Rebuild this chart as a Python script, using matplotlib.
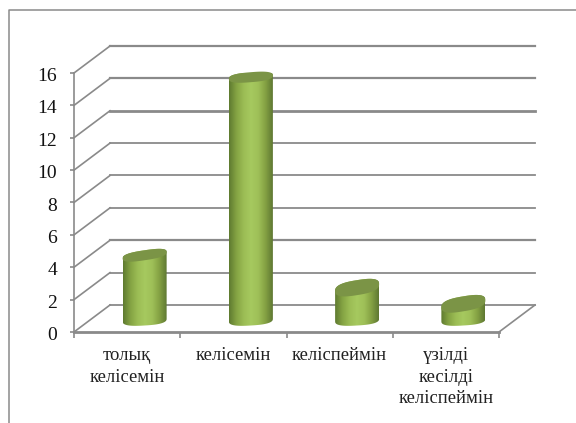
# 3D-look cylinder column chart, redrawn with plain matplotlib
import numpy as np
import matplotlib
matplotlib.use("Agg")
import matplotlib.pyplot as plt
from matplotlib.colors import LinearSegmentedColormap
from matplotlib.lines import Line2D
from matplotlib.path import Path
from matplotlib.transforms import ScaledTranslation

categories = ["толық\nкелісемін", "келісемін", "келіспеймін", "үзілді\nкесілді\nкеліспеймін"]
values = [4, 15, 2, 1]
y_ticks = [0, 2, 4, 6, 8, 10, 12, 14, 16]

W, H = 576, 423
LEFT, RIGHT, TOP, BOTTOM = 74, 499, 73, 332
GREY = "#8a8a8a"

plt.rcParams["font.family"] = ["Liberation Serif", "DejaVu Serif"]

fig = plt.figure(figsize=(W / 100, H / 100), dpi=100, facecolor="white")
ax = fig.add_axes([LEFT / W, 1 - BOTTOM / H, (RIGHT - LEFT) / W, (BOTTOM - TOP) / H])
ax.set_facecolor("none")

# pixels to data units
px_x = 4 / (RIGHT - LEFT)
px_y = 16 / (BOTTOM - TOP)
depth_x = 36 * px_x
depth_y = 27 * px_y

# outer frame, runs off the right and bottom edge
fig.add_artist(Line2D([1, 9 / W, 9 / W], [1 - 10.5 / H, 1 - 10.5 / H, 0], color=GREY, lw=1.1))

# gridlines on the wall and the slanted side wall
for v in y_ticks:
    lw = 2.0 if v == 12 else (1.6 if v in (4, 14, 16) else 1.3)
    ax.plot([depth_x, 4 + depth_x], [v + depth_y, v + depth_y], color=GREY, lw=lw, clip_on=False, zorder=1)
    ax.plot([0, depth_x], [v, v + depth_y], color=GREY, lw=1.2, clip_on=False, zorder=1)
ax.plot([4, 4 + depth_x], [0, depth_y], color=GREY, lw=1.2, clip_on=False, zorder=1)

cmap = LinearSegmentedColormap.from_list(
    "cyl", ["#5f7a30", "#84a343", "#9cbd55", "#a6c95f", "#9fc058", "#84a143", "#5f7832"]
)
shade = np.linspace(0, 1, 128).reshape(1, -1)


def ellipse(cx, cy, tilt, semi):
    # slightly squared ellipse, the lids in the original are quite full at the ends
    t = np.linspace(0, 2 * np.pi, 81)
    c = np.sign(np.cos(t)) * np.abs(np.cos(t)) ** 0.75
    s = np.sign(np.sin(t)) * np.abs(np.sin(t)) ** 0.75
    x = cx + 22 * px_x * c
    y = cy + (semi * s + tilt * 22 * c) * px_y
    return x, y


for i, val in enumerate(values):
    cx = i + 0.5 + 17.5 * px_x
    floor = 12 * px_y
    top = floor + val
    # short columns show more of their lid
    tilt = 0.17 - 0.006 * val
    semi = 5 if val >= 4 else 7.5

    xb, yb = ellipse(cx, floor, 0.06, 5.5)
    xt, yt = ellipse(cx, top, tilt, semi)

    # body = lower half of base + upper half of lid
    half = 22 * px_x
    verts = np.vstack([
        np.column_stack([xb[40:], yb[40:]]),
        np.column_stack([xt[:41], yt[:41]]),
    ])
    verts = np.vstack([verts, verts[0]])
    im = ax.imshow(
        shade, cmap=cmap, aspect="auto", zorder=3,
        extent=[cx - half, cx + half, floor - 12 * px_y, top + 12 * px_y],
    )
    im.set_clip_path(Path(verts), transform=ax.transData)
    ax.fill(xt, yt, color="#7b9446", lw=0, zorder=4, clip_on=False)

ax.set_xlim(0, 4)
ax.set_ylim(0, 16)

for side in ("top", "right"):
    ax.spines[side].set_visible(False)
for side in ("left", "bottom"):
    ax.spines[side].set_color(GREY)
ax.spines["left"].set_linewidth(1.2)
ax.spines["bottom"].set_linewidth(2.0)

ax.set_yticks(y_ticks)
ax.set_yticklabels([str(v) for v in y_ticks], fontsize=14, color="#111111")
ax.tick_params(axis="y", length=3, width=1.2, color=GREY, pad=9)
for lab in ax.get_yticklabels():
    lab.set_transform(lab.get_transform() + ScaledTranslation(0, -1.5 / 100, fig.dpi_scale_trans))

ax.set_xticks([0, 1, 2, 3, 4])
ax.set_xticklabels([])
ax.set_xticks([0.5, 1.5, 2.5, 3.5], minor=True)
ax.set_xticklabels(categories, minor=True, fontsize=13.4, color="#222222", linespacing=1.35, va="top")
ax.tick_params(axis="x", which="major", length=4, width=1.2, color=GREY)
ax.tick_params(axis="x", which="minor", length=0, pad=11)

fig.savefig("out.png", dpi=100)
